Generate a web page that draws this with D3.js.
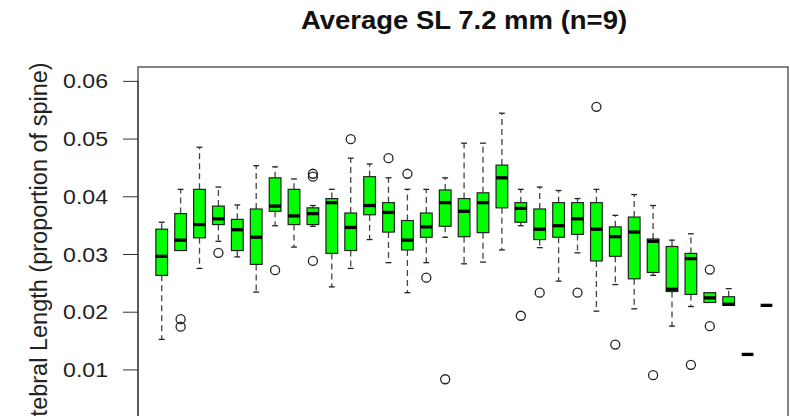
<!DOCTYPE html>
<html>
<head>
<meta charset="utf-8">
<script src="https://cdn.jsdelivr.net/npm/d3@7"></script>
<style>
  body { margin: 0; background: #fff; }
  svg { display: block; font-family: "Liberation Sans", Arial, sans-serif; }
</style>
</head>
<body>
<svg id="chart" width="790" height="416"></svg>
<script>
// one box per vertebra position
var vertebrae = [1,2,3,4,5,6,7,8,9,10,11,12,13,14,15,16,17,18,19,20,21,22,23,24,25,26,27,28,29,30,31,32,33];

var whiskerHigh = [0.0355,0.0412,0.0485,0.0416,0.0385,0.0453,0.0451,0.0430,0.0384,0.0412,0.0466,0.0456,0.0432,0.0412,0.0412,0.0432,0.0492,0.0492,0.0544,0.0412,0.0416,0.0410,0.0396,0.0412,0.0367,0.0403,0.0384,0.0324,0.0335,0.0233,0.0240,0.0126,0.0211];
var q3          = [0.0343,0.0370,0.0412,0.0383,0.0360,0.0378,0.0432,0.0412,0.0380,0.0396,0.0371,0.0434,0.0389,0.0358,0.0371,0.0411,0.0396,0.0406,0.0454,0.0389,0.0378,0.0389,0.0389,0.0389,0.0347,0.0364,0.0326,0.0313,0.0301,0.0233,0.0226,0.0126,0.0211];
var medians     = [0.0296,0.0324,0.0351,0.0361,0.0342,0.0329,0.0383,0.0366,0.0370,0.0389,0.0346,0.0384,0.0372,0.0324,0.0347,0.0389,0.0374,0.0389,0.0432,0.0379,0.0343,0.0349,0.0361,0.0343,0.0330,0.0338,0.0322,0.0239,0.0292,0.0224,0.0213,0.0126,0.0211];
var q1          = [0.0263,0.0306,0.0328,0.0351,0.0306,0.0282,0.0374,0.0351,0.0351,0.0301,0.0306,0.0368,0.0338,0.0307,0.0329,0.0348,0.0330,0.0337,0.0380,0.0355,0.0325,0.0329,0.0334,0.0288,0.0296,0.0257,0.0268,0.0235,0.0230,0.0216,0.0211,0.0126,0.0211];
var whiskerLow  = [0.0152,0.0306,0.0275,0.0322,0.0295,0.0234,0.0349,0.0312,0.0348,0.0243,0.0275,0.0325,0.0285,0.0233,0.0285,0.0329,0.0283,0.0286,0.0307,0.0349,0.0311,0.0253,0.0302,0.0201,0.0247,0.0205,0.0263,0.0175,0.0209,0.0216,0.0211,0.0126,0.0211];

// [vertebra, value]
var outliers = [
  [2,0.0187],[2,0.0174],[4,0.0302],[7,0.0272],[9,0.0439],[9,0.0434],[9,0.0288],
  [11,0.0499],[13,0.0466],[14,0.0439],[15,0.0259],[16,0.0083],[20,0.0193],
  [21,0.0233],[23,0.0233],[24,0.0555],[25,0.0143],[27,0.0090],[29,0.0108],
  [30,0.0273],[30,0.0175]
];

var yTicks = [0.01,0.02,0.03,0.04,0.05,0.06];
var chartTitle = "Average SL 7.2 mm (n=9)";
var yTitle = "Vertebral Length (proportion of spine)";

var svg = d3.select("#chart");
var plotLeft = 138, plotRight = 788, plotTop = 67, plotBottom = 441;

var x = d3.scaleLinear().domain([1, 33]).range([161.7, 766.5]);
var y = d3.scaleLinear().domain([-0.0024, 0.0624]).range([plotBottom, plotTop]);

var step = x(2) - x(1);
var boxW = step * 0.62;
var capW = boxW * 0.5;

var boxes = vertebrae.map(function (v, i) {
  return {v: v, hi: whiskerHigh[i], q3: q3[i], med: medians[i], q1: q1[i], lo: whiskerLow[i]};
});

// title
svg.append("text")
  .attr("transform", "translate(464,29) scale(1.1,1)")
  .attr("text-anchor", "middle")
  .style("font-size", "25px")
  .style("font-weight", "bold")
  .attr("fill", "#111")
  .text(chartTitle);

// y axis title (runs off the bottom edge, as in the reference)
svg.append("text")
  .attr("transform", "translate(47,257) rotate(-90)")
  .attr("text-anchor", "middle")
  .style("font-size", "23.5px")
  .attr("fill", "#222")
  .text(yTitle);

// plot frame
svg.append("rect")
  .attr("x", plotLeft).attr("y", plotTop)
  .attr("width", plotRight - plotLeft).attr("height", plotBottom - plotTop)
  .attr("fill", "none").attr("stroke", "#333").attr("stroke-width", 1.2);

// y axis
var yAxis = d3.axisLeft(y).tickValues([0].concat(yTicks)).tickSize(15).tickFormat(d3.format(".2f"));
var ag = svg.append("g").attr("transform", "translate(" + plotLeft + ",0)").call(yAxis);
ag.select(".domain").remove();
ag.append("line").attr("x1", 0).attr("x2", 0).attr("y1", y(0)).attr("y2", y(0.06)).attr("stroke", "#333");
ag.selectAll(".tick line").attr("stroke", "#333");
ag.selectAll(".tick text")
  .attr("x", null).attr("dy", null)
  .attr("transform", "translate(-30,7) scale(1.1,1)")
  .style("font-size", "21px")
  .style("font-family", "\"Liberation Sans\", Arial, sans-serif")
  .attr("fill", "#222");

var g = svg.append("g");

// whiskers
g.selectAll(".wh-up").data(boxes).enter().append("line")
  .attr("x1", function (d) { return x(d.v); }).attr("x2", function (d) { return x(d.v); })
  .attr("y1", function (d) { return y(d.q3); }).attr("y2", function (d) { return y(d.hi); })
  .attr("stroke", "#444").attr("stroke-width", 1.3).attr("stroke-dasharray", "6,4");
g.selectAll(".wh-lo").data(boxes).enter().append("line")
  .attr("x1", function (d) { return x(d.v); }).attr("x2", function (d) { return x(d.v); })
  .attr("y1", function (d) { return y(d.q1); }).attr("y2", function (d) { return y(d.lo); })
  .attr("stroke", "#444").attr("stroke-width", 1.3).attr("stroke-dasharray", "6,4");

// caps
g.selectAll(".cap-up").data(boxes.filter(function (d) { return d.hi > d.q3; })).enter().append("line")
  .attr("x1", function (d) { return x(d.v) - capW / 2; }).attr("x2", function (d) { return x(d.v) + capW / 2; })
  .attr("y1", function (d) { return y(d.hi); }).attr("y2", function (d) { return y(d.hi); })
  .attr("stroke", "#222").attr("stroke-width", 1.3);
g.selectAll(".cap-lo").data(boxes.filter(function (d) { return d.lo < d.q1; })).enter().append("line")
  .attr("x1", function (d) { return x(d.v) - capW / 2; }).attr("x2", function (d) { return x(d.v) + capW / 2; })
  .attr("y1", function (d) { return y(d.lo); }).attr("y2", function (d) { return y(d.lo); })
  .attr("stroke", "#222").attr("stroke-width", 1.3);

// boxes
g.selectAll(".box").data(boxes.filter(function (d) { return d.q3 > d.q1; })).enter().append("rect")
  .attr("x", function (d) { return x(d.v) - boxW / 2; })
  .attr("y", function (d) { return y(d.q3); })
  .attr("width", boxW)
  .attr("height", function (d) { return y(d.q1) - y(d.q3); })
  .attr("fill", "#00ff00").attr("stroke", "#222").attr("stroke-width", 1.2);

// medians
g.selectAll(".med").data(boxes).enter().append("line")
  .attr("x1", function (d) { return x(d.v) - boxW / 2; }).attr("x2", function (d) { return x(d.v) + boxW / 2; })
  .attr("y1", function (d) { return y(d.med); }).attr("y2", function (d) { return y(d.med); })
  .attr("stroke", "#000").attr("stroke-width", 3.3);

// outliers
g.selectAll(".out").data(outliers).enter().append("circle")
  .attr("cx", function (d) { return x(d[0]); })
  .attr("cy", function (d) { return y(d[1]); })
  .attr("r", 4.5)
  .attr("fill", "none").attr("stroke", "#222").attr("stroke-width", 1.3);
</script>
</body>
</html>
